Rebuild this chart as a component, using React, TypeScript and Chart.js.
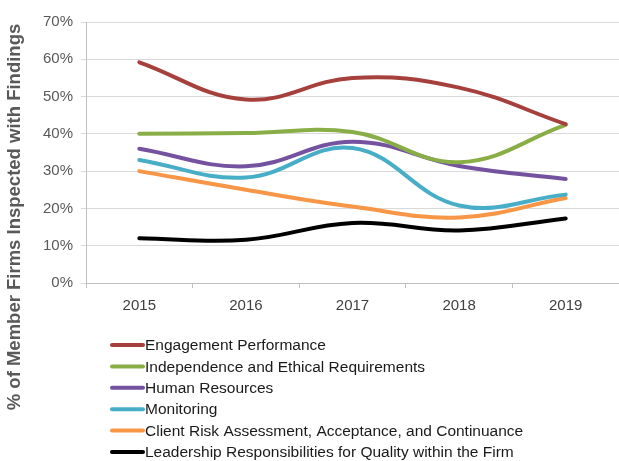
import React, { useEffect, useRef } from "react";
import { Chart, registerables } from "chart.js";

Chart.register(...registerables);

const years = ["2015", "2016", "2017", "2018", "2019"];
const engagement = [59.2, 49.2, 55.0, 52.4, 42.6];
const independence = [40.0, 40.2, 40.5, 32.4, 42.4];
const humanResources = [36.0, 31.3, 37.9, 31.4, 27.9];
const monitoring = [33.0, 28.3, 36.2, 20.8, 23.7];
const clientRisk = [30.0, 25.0, 20.5, 17.6, 22.8];
const leadership = [12.0, 11.6, 16.1, 14.1, 17.3];
const yTicks = [0, 10, 20, 30, 40, 50, 60, 70];
const yTitle = "% of Member Firms Inspected with Findings";

const seriesNames = [
  "Engagement Performance",
  "Independence and Ethical Requirements",
  "Human Resources",
  "Monitoring",
  "Client Risk Assessment, Acceptance, and Continuance",
  "Leadership Responsibilities for Quality within the Firm",
];
const seriesValues = [engagement, independence, humanResources, monitoring, clientRisk, leadership];
const seriesColors = ["#A6403C", "#8AAE47", "#7452A0", "#48ADC7", "#F79646", "#000000"];

const FONT = "'Liberation Sans', Arial, sans-serif";

const legendPlugin = {
  id: "vlegend",
  afterDraw(chart: any) {
    const ctx = chart.ctx;
    ctx.save();
    // y axis title, centred on the canvas height
    ctx.translate(15, 217);
    ctx.rotate(-Math.PI / 2);
    ctx.font = `bold 18.5px ${FONT}`;
    ctx.fillStyle = "#595959";
    ctx.textAlign = "center";
    ctx.textBaseline = "middle";
    ctx.fillText(yTitle, 0, 0);
    ctx.restore();

    ctx.save();
    ctx.font = `15.5px ${FONT}`;
    ctx.textBaseline = "middle";
    chart.data.datasets.forEach((ds: any, i: number) => {
      const y = 345 + i * 21.4;
      ctx.strokeStyle = ds.borderColor;
      ctx.lineWidth = 4;
      ctx.lineCap = "round";
      ctx.beginPath();
      ctx.moveTo(112, y);
      ctx.lineTo(143, y);
      ctx.stroke();
      ctx.fillStyle = "#1a1a1a";
      ctx.fillText(ds.label, 145, y + 1);
    });
    ctx.restore();
  },
};

export default function App() {
  const ref = useRef<HTMLCanvasElement>(null);
  useEffect(() => {
    document.body.style.margin = "0";
    const chart = new Chart(ref.current!, {
      type: "line",
      data: {
        labels: years,
        datasets: seriesValues.map((vals, i) => ({
          label: seriesNames[i],
          data: vals,
          borderColor: seriesColors[i],
          backgroundColor: seriesColors[i],
          borderWidth: 4,
          pointRadius: 0,
          tension: 0.4,
          borderCapStyle: "round" as const,
          fill: false,
        })),
      },
      options: {
        animation: false,
        responsive: false,
        layout: { padding: { top: 22, right: 0, bottom: 148, left: 0 } },
        plugins: { legend: { display: false }, tooltip: { enabled: false } },
        scales: {
          x: {
            offset: true,
            afterFit: (s: any) => { s.height = 30; },
            grid: { offset: true, drawOnChartArea: false, drawTicks: true, tickLength: 5, color: "#BFBFBF" },
            border: { color: "#BFBFBF", width: 1 },
            ticks: { color: "#404040", font: { family: FONT, size: 15 }, padding: 9 },
          },
          y: {
            min: 0,
            max: 70,
            afterFit: (s: any) => { s.width = 86; },
            afterBuildTicks: (s: any) => { s.ticks = yTicks.map((v) => ({ value: v })); },
            grid: { color: "#D9D9D9", lineWidth: 1, tickLength: 5, drawTicks: true },
            border: { color: "#BFBFBF", width: 1 },
            ticks: {
              color: "#595959",
              font: { family: FONT, size: 15 },
              padding: 8,
              callback: (v: any) => `${v}%`,
            },
          },
        },
      },
      plugins: [legendPlugin],
    });
    return () => chart.destroy();
  }, []);
  return <canvas ref={ref} width={619} height={461} style={{ display: "block" }} />;
}
